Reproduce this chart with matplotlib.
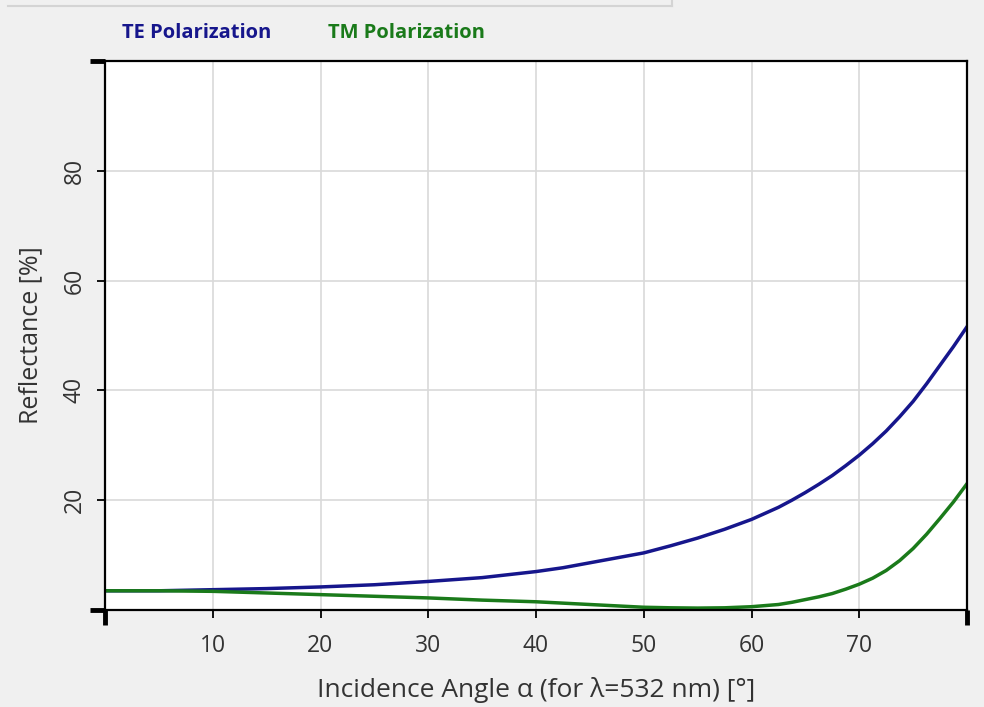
import matplotlib
matplotlib.use("Agg")
import matplotlib.pyplot as plt
from matplotlib.lines import Line2D

# Incidence angle (deg) and reflectance (%)
angle = [0, 5, 10, 15, 20, 25, 30, 35, 40, 42.5, 45, 47.5, 50, 52.5, 55, 57.5, 60,
         61.25, 62.5, 63.75, 65, 66.25, 67.5, 68.75, 70, 71.25, 72.5, 73.75, 75,
         76.25, 77.5, 78.75, 80]
te_refl = [3.5, 3.5, 3.7, 3.9, 4.2, 4.6, 5.2, 5.9, 7.0, 7.7, 8.6, 9.5, 10.4, 11.7, 13.1, 14.7, 16.5,
           17.6, 18.7, 20.0, 21.4, 22.9, 24.5, 26.3, 28.2, 30.3, 32.6, 35.2, 38.0,
           41.2, 44.6, 48.0, 51.6]
tm_refl = [3.5, 3.5, 3.4, 3.1, 2.8, 2.5, 2.2, 1.8, 1.5, 1.25, 1.0, 0.75, 0.5, 0.4, 0.35, 0.4, 0.6,
           0.8, 1.0, 1.4, 1.9, 2.4, 3.0, 3.8, 4.7, 5.8, 7.2, 9.0, 11.2,
           13.8, 16.7, 19.7, 23.0]

x_ticks = [10, 20, 30, 40, 50, 60, 70]
y_ticks = [20, 40, 60, 80]

TE_COLOR = "#16168c"
TM_COLOR = "#1a7a1a"
BG = "#f0f0f0"

plt.rcParams["font.family"] = ["Open Sans", "DejaVu Sans"]

fig = plt.figure(figsize=(9.84, 7.07), dpi=100, facecolor=BG)
ax = fig.add_axes([105 / 984, 1 - 610 / 707, 862 / 984, 549 / 707])
ax.set_facecolor("white")

ax.plot(angle, te_refl, color=TE_COLOR, lw=2.5)
ax.plot(angle, tm_refl, color=TM_COLOR, lw=2.5)

ax.set_xlim(0, 80)
ax.set_ylim(0, 100)
ax.set_xticks(x_ticks)
ax.set_yticks(y_ticks)
ax.grid(True, color="#d9d9d9", lw=1.2)
ax.set_axisbelow(True)
for s in ax.spines.values():
    s.set_color("black")
    s.set_linewidth(1.6)

ax.tick_params(axis="both", direction="out", length=6, width=1.3, color="black",
               labelsize=16.5, labelcolor="#333333")
ax.tick_params(axis="x", pad=11)
ax.tick_params(axis="y", pad=7)
plt.setp(ax.get_yticklabels(), rotation=90, va="center")

# thick end marks at the axis limits
ax.plot([0, 80], [0, 0], ls="none", marker=3, ms=11, mew=3.5, color="black", clip_on=False)
ax.plot([0, 0], [0, 100], ls="none", marker=0, ms=11, mew=3.5, color="black", clip_on=False)

ax.set_xlabel("Incidence Angle α (for λ=532 nm) [°]", fontsize=19, color="#333333", labelpad=14)
ax.set_ylabel("Reflectance [%]", fontsize=18, color="#333333", labelpad=14)

# legend as coloured text above the plot
fig.text(122 / 984, 1 - 33 / 707, "TE Polarization", color=TE_COLOR, fontsize=14.5,
         fontweight="bold", va="center", ha="left")
fig.text(328 / 984, 1 - 33 / 707, "TM Polarization", color=TM_COLOR, fontsize=14.5,
         fontweight="bold", va="center", ha="left")

# faint panel frame at the top
fig.add_artist(Line2D([8 / 984, 672 / 984], [1 - 6 / 707, 1 - 6 / 707], color="#d4d4d4", lw=1.5))
fig.add_artist(Line2D([672 / 984, 672 / 984], [1 - 6 / 707, 1.0], color="#d4d4d4", lw=1.5))

fig.savefig("out.png", dpi=100, facecolor=BG)
